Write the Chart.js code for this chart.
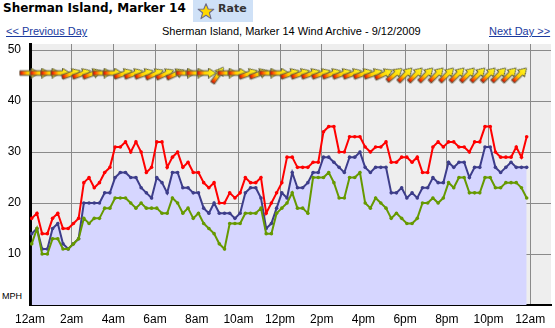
<!DOCTYPE html>
<html>
<head>
<meta charset="utf-8">
<script src="https://cdn.jsdelivr.net/npm/chart.js@4.4.1/dist/chart.umd.min.js"></script>
<style>
html,body{margin:0;padding:0;background:#fff;width:555px;height:328px;overflow:hidden;}
body{position:relative;font-family:"Liberation Sans",Arial,sans-serif;}
#hdr{position:absolute;left:3px;top:1px;font:bold 12px/14px "DejaVu Sans",sans-serif;color:#000;white-space:nowrap;}
#rate{position:absolute;left:193px;top:0;width:60px;height:22px;background:#cfe1f7;}
#rate svg{position:absolute;left:4px;top:3px;}
#rate span{position:absolute;left:25px;top:2px;font:bold 11px/13px "DejaVu Sans",sans-serif;color:#333;}
.lnk{position:absolute;top:25px;font-size:11px;line-height:13px;color:#1a3a9e;text-decoration:underline;white-space:nowrap;}
#ttl{position:absolute;top:25px;left:162px;font-size:11px;line-height:13px;color:#000;white-space:nowrap;}
#mph{position:absolute;left:2px;top:291px;font-size:9px;line-height:10px;color:#000;}
#wrap{position:absolute;left:0;top:40px;width:555px;height:288px;}
</style>
</head>
<body>
<div id="hdr">Sherman Island, Marker 14</div>
<div id="rate"><svg width="18" height="17" viewBox="0 0 18 17"><polygon points="9,0.8 11.2,6 16.8,6.2 12.4,9.8 14,15.6 9,12.3 4,15.6 5.6,9.8 1.2,6.2 6.8,6" fill="#ffd800" stroke="#6b6b8a" stroke-width="1.1" stroke-linejoin="round"/></svg><span>Rate</span></div>
<div class="lnk" style="left:6px">&lt;&lt; Previous Day</div>
<div id="ttl">Sherman Island, Marker 14 Wind Archive - 9/12/2009</div>
<div class="lnk" style="left:489px">Next Day &gt;&gt;</div>
<div id="mph">MPH</div>
<div id="wrap"><canvas id="c" width="555" height="288"></canvas></div>
<script>
// ---- data (15-minute samples, MPH) ----
const gust = [17,18,14,14,17,18,15,15,16,17,
  24,25,23,24,26,27,31,31,32,30,
  32,30,26,27,32,32,27,29,30,27,
  28,26,26,24,23,24,20,20,22,21,
  22,25,24,24,25,18,20,22,24,29,
  29,27,27,27,28,28,34,35,35,30,
  30,33,33,33,31,30,31,31,32,28,
  28,29,29,28,29,26,26,31,32,31,
  32,32,31,31,30,32,32,35,35,30,
  29,29,29,31,29,33];
const average = [14,15,11,11,15,16,12,11,12,13,
  20,20,20,20,22,22,25,26,26,25,
  25,23,22,21,25,24,22,26,26,23,
  23,22,22,19,18,20,18,18,18,17,
  18,22,23,23,21,15,16,19,22,21,
  26,23,23,24,26,26,29,29,28,27,
  26,29,29,30,27,26,27,27,27,22,
  22,23,21,22,21,23,23,25,24,24,
  28,27,28,28,25,27,27,31,31,27,
  26,27,28,27,27,27];
const lull = [12,15,10,10,13,13,11,11,12,13,
  17,16,17,17,19,19,21,21,21,20,
  19,20,19,19,19,18,18,21,20,18,
  19,17,18,16,15,14,12,11,16,16,
  16,18,18,18,19,14,14,18,19,20,
  22,19,19,18,25,25,25,26,24,21,
  21,25,25,26,20,19,21,20,19,17,
  18,17,16,16,17,20,20,21,20,21,
  24,23,25,25,22,22,22,25,25,23,
  23,24,24,24,23,21];
// wind-direction arrows every 30 min: rotation in degrees (0 = pointing right, negative = tilted upward)
const arrowRotation = [0,0,0,0,-20,-20,-20,0,0,-20,
  -20,-20,-25,-25,-25,0,0,0,-55,0,
  0,-20,-20,0,0,-20,-20,-20,-20,-20,
  -20,-20,-20,-20,-25,-40,-45,-45,-45,-45,
  -45,-45,-45,-45,-45,-45,-45,-45];
const arrowLevel = 45.5;
const firstSampleHour = 5/60;   // first reading at 12:05am
const sampleStepHour = 0.25;    // 15-minute readings
const xTickHours = [0,2,4,6,8,10,12,14,16,18,20,22,24];
const xTickLabels = ['12am','2am','4am','6am','8am','10am','12pm','2pm','4pm','6pm','8pm','10pm','12am'];
const yTickValues = [10,20,30,40,50];

const times = gust.map((_, i) => firstSampleHour + i * sampleStepHour);
const toXY = arr => arr.map((v, i) => ({x: times[i], y: v}));

function makeArrow(){
  const c = document.createElement('canvas');
  c.width = 21; c.height = 11;
  const g = c.getContext('2d');
  const grad = g.createLinearGradient(1, 0, 20, 0);
  grad.addColorStop(0, '#d00000');
  grad.addColorStop(0.18, '#ff5a00');
  grad.addColorStop(0.4, '#ffd000');
  grad.addColorStop(1, '#ffff28');
  g.beginPath();
  g.moveTo(1, 3.2); g.lineTo(12.5, 3.2); g.lineTo(12.5, 0.6); g.lineTo(20.2, 5.5);
  g.lineTo(12.5, 10.4); g.lineTo(12.5, 7.8); g.lineTo(1, 7.8); g.closePath();
  g.fillStyle = grad; g.fill();
  g.strokeStyle = '#5c5c40'; g.lineWidth = 1; g.stroke();
  return c;
}
const arrowImg = makeArrow();
const arrowPivot = 13; // pivot along the arrow, from its tail

const bgPlugin = {
  id: 'plotBg',
  beforeDraw(chart){
    const {ctx, chartArea: a} = chart;
    ctx.save();
    ctx.fillStyle = '#eeeeee';
    ctx.fillRect(a.left, a.top, a.right - a.left, a.bottom - a.top);
    ctx.restore();
  }
};

// wind direction arrows placed with the chart's own scales
const arrowPlugin = {
  id: 'windArrows',
  afterDatasetsDraw(chart){
    const {ctx, scales: {x, y}} = chart;
    const py = y.getPixelForValue(arrowLevel);
    arrowRotation.forEach((rot, k) => {
      const px = x.getPixelForValue(times[k * 2]);
      ctx.save();
      ctx.translate(px, py);
      ctx.rotate(rot * Math.PI / 180);
      ctx.drawImage(arrowImg, -arrowPivot, -arrowImg.height / 2);
      ctx.restore();
    });
  }
};

const tickFont = {family: '"Liberation Sans", Arial, sans-serif', size: 12};

new Chart(document.getElementById('c'), {
  type: 'line',
  data: {
    datasets: [
      {label: 'gust', data: toXY(gust), borderColor: '#ff0000', backgroundColor: '#ff0000',
       borderWidth: 2, pointRadius: 1.8, pointBorderWidth: 0, pointBackgroundColor: '#ff0000', fill: false, tension: 0, order: 1},
      {label: 'lull', data: toXY(lull), borderColor: '#669900', backgroundColor: '#669900',
       borderWidth: 2, pointRadius: 1.8, pointBorderWidth: 0, pointBackgroundColor: '#669900', fill: false, tension: 0, order: 2},
      {label: 'average', data: toXY(average), borderColor: '#3d3d8a', backgroundColor: '#d6d6ff',
       borderWidth: 2, pointRadius: 1.8, pointBorderWidth: 0, pointBackgroundColor: '#3d3d8a', fill: 'origin', tension: 0, order: 3}
    ]
  },
  options: {
    responsive: false,
    animation: false,
    events: [],
    layout: {padding: {left: 0, right: 2, top: 0, bottom: 0}},
    plugins: {legend: {display: false}, tooltip: {enabled: false}, filler: {drawTime: 'beforeDatasetsDraw'}},
    scales: {
      x: {
        type: 'linear', min: 0, max: 25,
        afterBuildTicks: s => { s.ticks = xTickHours.map(v => ({value: v})); },
        afterFit: s => { s.height = 23; s.paddingLeft = 0; s.paddingRight = 0; },
        ticks: {callback: (v, i) => xTickLabels[i], font: tickFont, color: '#000', padding: 7, maxRotation: 0, autoSkip: false},
        grid: {color: c => (c.tick && c.tick.value === 0) ? 'rgba(0,0,0,0)' : '#8a8a8a', drawTicks: false, lineWidth: 1},
        border: {display: true, color: '#000', width: 2}
      },
      y: {
        min: 0, max: 51.2,
        afterBuildTicks: s => { s.ticks = yTickValues.map(v => ({value: v})); },
        afterFit: s => { s.width = 30; s.paddingTop = 0; s.paddingBottom = 0; },
        ticks: {font: tickFont, color: '#000', padding: 9},
        grid: {color: '#8a8a8a', drawTicks: false, lineWidth: 1},
        border: {display: true, color: '#000', width: 3}
      }
    }
  },
  plugins: [bgPlugin, arrowPlugin]
});
</script>
</body>
</html>
